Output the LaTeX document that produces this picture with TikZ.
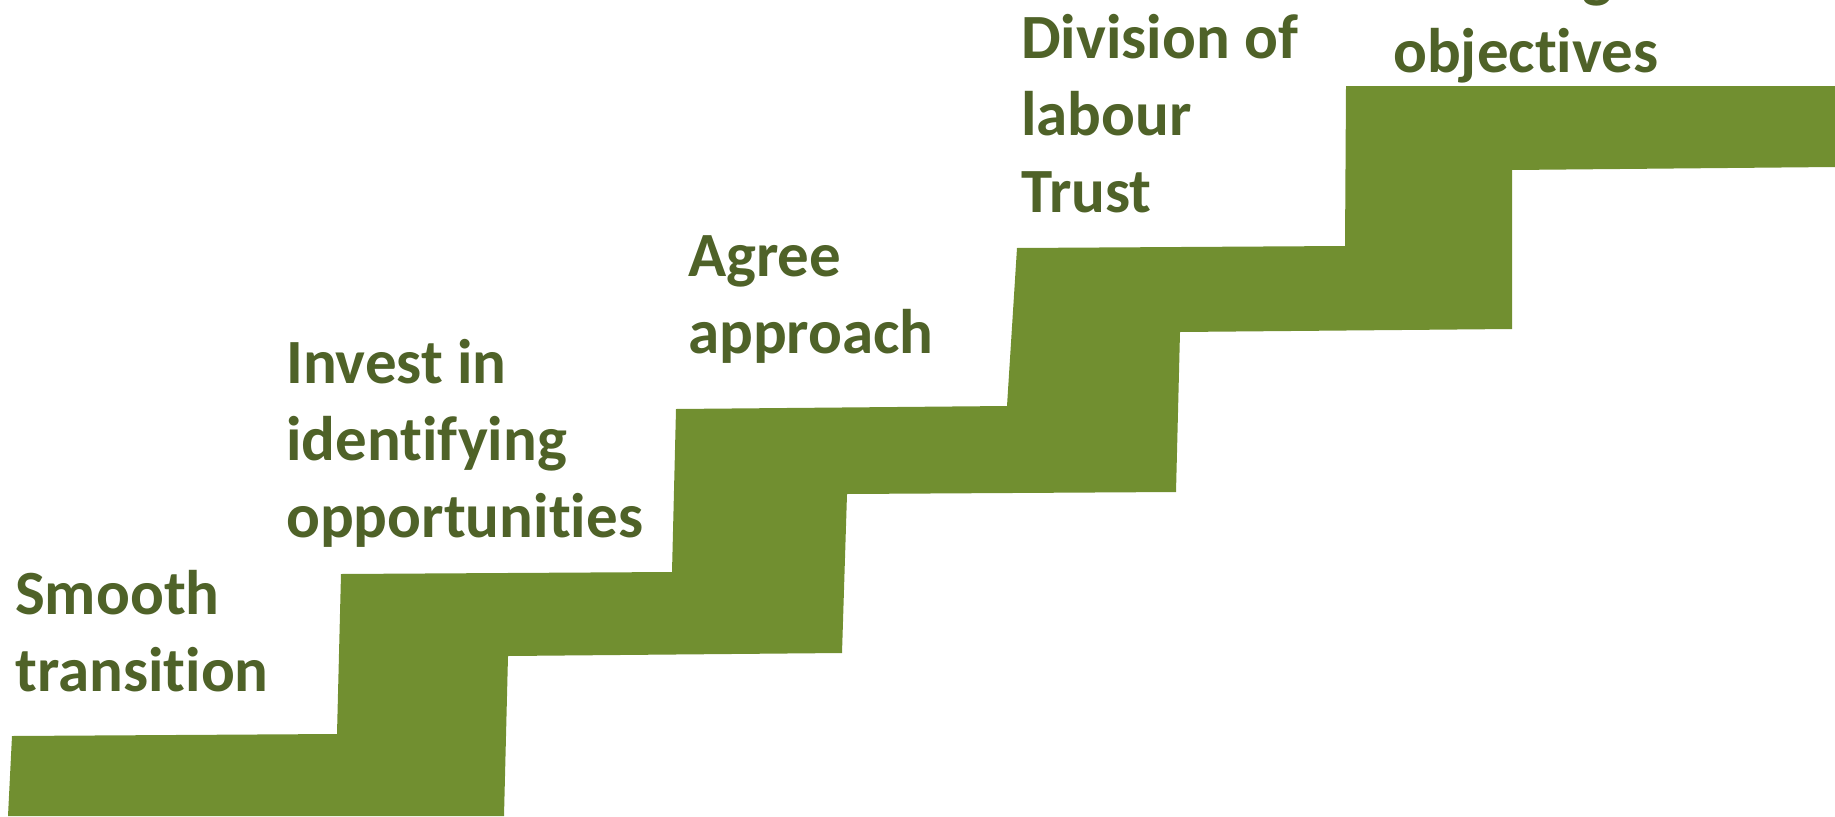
\documentclass[tikz,border=0pt]{standalone}
\usepackage{fontspec}
\setmainfont{Carlito}[Ligatures={NoCommon,NoRare}]
\definecolor{stairfill}{HTML}{718F30}
\definecolor{labeltext}{HTML}{4F6228}
\begin{document}
\begin{tikzpicture}[x=1pt,y=-1pt,
  label/.style={anchor=base west,inner sep=0pt,align=left,text=labeltext,
    font=\fontsize{63}{77}\selectfont\bfseries}]
\useasboundingbox (0,0) rectangle (1835,816);
\clip (0,0) rectangle (1835,816);
\fill[stairfill] (8,816) -- (12,736) -- (337,734) -- (341,574) -- (672,572)
  -- (676,409) -- (1007,406) -- (1017,248) -- (1345,246) -- (1346,86)
  -- (1835,86) -- (1835,167) -- (1512,170) -- (1512,329) -- (1180,332)
  -- (1176,492) -- (847,494) -- (842,653) -- (508,656) -- (504,816) -- cycle;
\node[label] (l1) at (15,691) {Smooth\\transition};
\node[label] (l2) at (286,537) {Invest in\\identifying\\opportunities};
\node[label] (l3) at (688,353) {Agree\\approach};
\node[label] (l4) at (1021,212) {Division of\\labour\\Trust};
\node[label] (l5) at (1393,72) {Meeting\\objectives};
\end{tikzpicture}
\end{document}
